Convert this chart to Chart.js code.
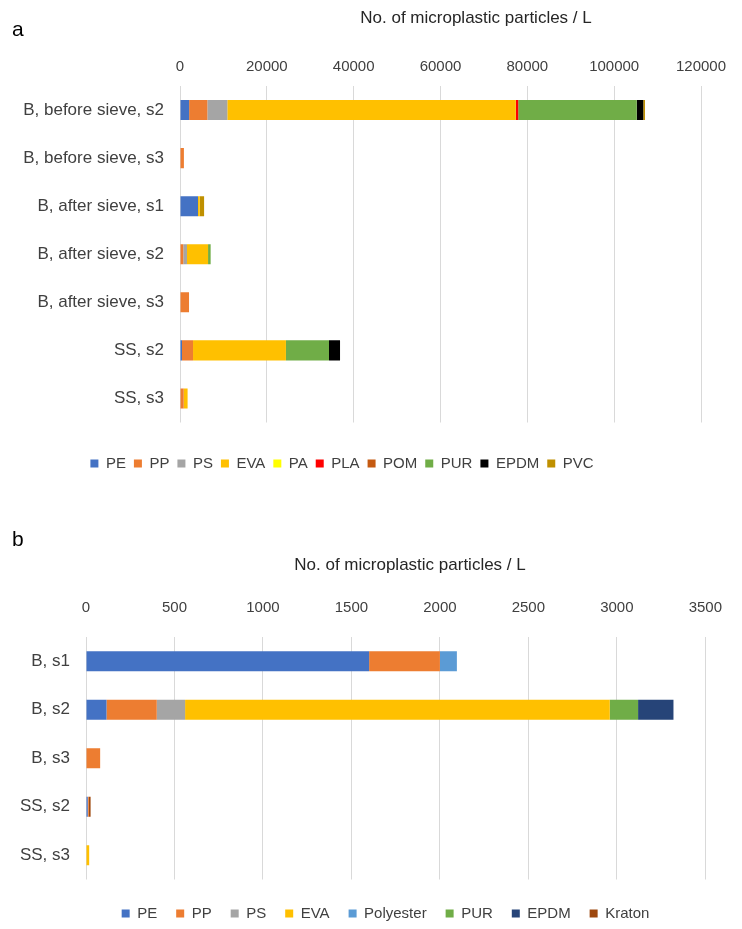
<!DOCTYPE html>
<html>
<head>
<meta charset="utf-8">
<script src="https://cdn.jsdelivr.net/npm/chart.js@4.4.1/dist/chart.umd.min.js"></script>
<style>
  html, body { margin: 0; padding: 0; background: #fff; overflow: hidden; }
  body { width: 742px; height: 929px; position: relative; }
  .panel { position: absolute; left: 0; width: 742px; }
  #wrapA { top: 0; height: 490px; }
  #wrapB { top: 490px; height: 442px; }
</style>
</head>
<body>
<div class="panel" id="wrapA"><canvas id="chartA"></canvas></div>
<div class="panel" id="wrapB"><canvas id="chartB"></canvas></div>
<script>
const FONT = "'Liberation Sans', Arial, sans-serif";

// ---------- panel a ----------
const samplesA = ['B, before sieve, s2', 'B, before sieve, s3', 'B, after sieve, s1',
  'B, after sieve, s2', 'B, after sieve, s3', 'SS, s2', 'SS, s3'];
const peA   = [2100,    0, 4150,    0,    0,   460,   0];
const ppA   = [4200,  900,    0,  760, 2080,  2540, 850];
const psA   = [4600,    0,    0,  850,    0,     0,   0];
const evaA  = [66450,   0,  400, 4850,    0, 21400, 900];
const paA   = [0,       0,    0,    0,    0,     0,   0];
const plaA  = [550,     0,    0,    0,    0,     0,   0];
const pomA  = [0,       0,    0,    0,    0,     0,   0];
const purA  = [27300,   0,    0,  600,    0,  9920,   0];
const epdmA = [1500,    0,    0,    0,    0,  2540,   0];
const pvcA  = [400,     0, 1000,    0,    0,     0,   0];
const ticksA = [0, 20000, 40000, 60000, 80000, 100000, 120000];

// ---------- panel b ----------
const samplesB = ['B, s1', 'B, s2', 'B, s3', 'SS, s2', 'SS, s3'];
const peB        = [1600,  116,  0, 10,  0];
const ppB        = [400,   284, 80,  6,  0];
const psB        = [0,     160,  0,  0,  0];
const evaB       = [0,    2400,  0,  0, 18];
const polyesterB = [96,      0,  0,  0,  0];
const purB       = [0,     160,  0,  0,  0];
const epdmB      = [0,     200,  0,  0,  0];
const kratonB    = [0,       0,  0, 10,  0];
const ticksB = [0, 500, 1000, 1500, 2000, 2500, 3000, 3500];

const colors = {
  PE: '#4472C4', PP: '#ED7D31', PS: '#A5A5A5', EVA: '#FFC000', PA: '#FFFF00',
  PLA: '#FF0000', POM: '#C55A11', PUR: '#70AD47', EPDM: '#000000', PVC: '#BF9000',
  Polyester: '#5B9BD5', EPDM_b: '#264478', Kraton: '#9E480E'
};

function ds(label, data, color, pct) {
  return {
    label: label, data: data, backgroundColor: color, borderWidth: 0,
    categoryPercentage: 1, barPercentage: pct
  };
}

// draws the panel letter and the axis title
const panelText = {
  id: 'panelText',
  afterDraw(chart, args, o) {
    const ctx = chart.ctx;
    ctx.save();
    ctx.fillStyle = '#000';
    ctx.textBaseline = 'middle';
    ctx.textAlign = 'left';
    ctx.font = '21px ' + FONT;
    ctx.fillText(o.letter, o.letterX, o.letterY);
    ctx.fillStyle = '#262626';
    ctx.font = '17px ' + FONT;
    ctx.textAlign = 'center';
    ctx.fillText(o.title, o.titleX, o.titleY);
    ctx.restore();
  }
};

// y labels may stick out left of the (narrow) y scale box, don't clip them
const noLabelClip = {
  id: 'noLabelClip',
  afterLayout(chart) { chart.scales.y.left = Math.min(chart.scales.y.left, 0); }
};

function makeOptions(cfg) {
  return {
    indexAxis: 'y',
    responsive: true,
    maintainAspectRatio: false,
    animation: false,
    layout: { padding: cfg.padding },
    scales: {
      x: {
        position: 'top',
        stacked: true,
        min: cfg.ticks[0],
        max: cfg.ticks[cfg.ticks.length - 1],
        afterBuildTicks: s => { s.ticks = cfg.ticks.map(v => ({ value: v })); },
        ticks: {
          padding: cfg.xPad,
          color: '#404040',
          font: { family: FONT, size: 15 },
          callback: v => String(v)
        },
        grid: { color: '#d9d9d9', lineWidth: 1, drawTicks: false },
        border: { display: false }
      },
      y: {
        stacked: true,
        afterFit: s => { s.width = cfg.yWidth; },
        ticks: {
          padding: 16,
          color: '#404040',
          font: { family: FONT, size: 17 }
        },
        grid: { display: false, drawTicks: false },
        border: { display: false }
      }
    },
    plugins: {
      tooltip: { enabled: false },
      legend: {
        position: 'bottom',
        title: { display: true, text: '', font: { size: 1, lineHeight: 1 }, padding: { top: cfg.legendGap, bottom: 0 } },
        labels: {
          boxWidth: 8, boxHeight: 8, padding: cfg.legendPad,
          color: '#404040',
          font: { family: FONT, size: 15 }
        }
      },
      panelText: cfg.text
    }
  };
}

new Chart(document.getElementById('chartA'), {
  type: 'bar',
  data: {
    labels: samplesA,
    datasets: [
      ds('PE', peA, colors.PE, 0.417),
      ds('PP', ppA, colors.PP, 0.417),
      ds('PS', psA, colors.PS, 0.417),
      ds('EVA', evaA, colors.EVA, 0.417),
      ds('PA', paA, colors.PA, 0.417),
      ds('PLA', plaA, colors.PLA, 0.417),
      ds('POM', pomA, colors.POM, 0.417),
      ds('PUR', purA, colors.PUR, 0.417),
      ds('EPDM', epdmA, colors.EPDM, 0.417),
      ds('PVC', pvcA, colors.PVC, 0.417)
    ]
  },
  options: makeOptions({
    padding: { top: 48, left: -17, right: 41, bottom: 9 },
    ticks: ticksA, xPad: 10, yWidth: 197, legendGap: 24.5, legendPad: 8,
    text: { letter: 'a', letterX: 12, letterY: 30, title: 'No. of microplastic particles / L', titleX: 476, titleY: 18 }
  }),
  plugins: [panelText, noLabelClip]
});

new Chart(document.getElementById('chartB'), {
  type: 'bar',
  data: {
    labels: samplesB,
    datasets: [
      ds('PE', peB, colors.PE, 0.41),
      ds('PP', ppB, colors.PP, 0.41),
      ds('PS', psB, colors.PS, 0.41),
      ds('EVA', evaB, colors.EVA, 0.41),
      ds('Polyester', polyesterB, colors.Polyester, 0.41),
      ds('PUR', purB, colors.PUR, 0.41),
      ds('EPDM', epdmB, colors.EPDM_b, 0.41),
      ds('Kraton', kratonB, colors.Kraton, 0.41)
    ]
  },
  options: makeOptions({
    padding: { top: 89, left: 60, right: 31, bottom: 1 },
    ticks: ticksB, xPad: 20, yWidth: 26, legendGap: 6.5, legendPad: 19,
    text: { letter: 'b', letterX: 12, letterY: 50, title: 'No. of microplastic particles / L', titleX: 410, titleY: 75 }
  }),
  plugins: [panelText, noLabelClip]
});
</script>
</body>
</html>
